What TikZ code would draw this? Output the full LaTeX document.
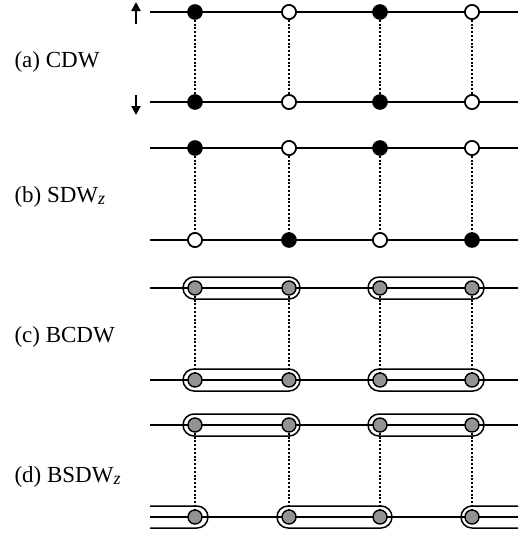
\documentclass[tikz,border=0pt]{standalone}
\usepackage{fontspec}
\setmainfont{Liberation Serif}
\usetikzlibrary{arrows.meta}
\begin{document}
\begin{tikzpicture}[x=1pt,y=-1pt,
    site/.style={circle,draw,line width=1.6pt,inner sep=0pt,minimum size=14pt},
    full/.style={site,fill=black},
    hole/.style={site,fill=white},
    bond/.style={site,fill=gray!85,line width=1.4pt},
    chain/.style={line width=2pt},
    rung/.style={line width=2.6pt,dash pattern=on 2pt off 1.8pt},
    pair/.style={draw,line width=1.5pt,rounded corners=11pt},
    spin/.style={line width=2.6pt,-{Triangle[length=9pt,width=9pt]}},
    label/.style={anchor=base west,font=\fontsize{23}{27}\selectfont}]
    \useasboundingbox (0,0) rectangle (527,536);
    %% Labels
    \node[label] (la) at (11,67) {(a) CDW};
    \node[label] (lb) at (11,202) {(b) SDW{\fontsize{18}{20}\selectfont\itshape\raisebox{-0.25ex}{z}}};
    \node[label] (lc) at (11,342) {(c) BCDW};
    \node[label] (ld) at (11,482) {(d) BSDW{\fontsize{18}{20}\selectfont\itshape\raisebox{-0.25ex}{z}}};
    %% Spin arrows
    \coordinate (up0) at (136,24);   \coordinate (up1) at (136,2);
    \coordinate (dn0) at (136,95);   \coordinate (dn1) at (136,115);
    \draw[spin] (up0) -- (up1);
    \draw[spin] (dn0) -- (dn1);
    %% Chains
    \foreach \r/\y in {a1/12,a2/102,b1/148,b2/240,c1/288,c2/380,d1/425,d2/517} {
        \coordinate (\r w) at (150,\y);
        \coordinate (\r e) at (518,\y);
        \draw[chain] (\r w) -- (\r e);
    }
    %% Bonds (c), (d)
    \foreach \y in {288,380,425} {
        \draw[pair] (183,\y-11) rectangle (300,\y+11);
        \draw[pair] (368,\y-11) rectangle (484,\y+11);
    }
    \draw[pair] (150,506) -- (208,506) -- (208,528) -- (150,528);
    \draw[pair] (277,506) rectangle (392,528);
    \draw[pair] (518,506) -- (461,506) -- (461,528) -- (518,528);
    %% Sites
    \foreach \s/\x in {1/195,2/289,3/380,4/472} {
        \node[full] (a1\s) at (\x,12) {};
        \node[full] (a2\s) at (\x,102) {};
        \node[full] (b1\s) at (\x,148) {};
        \node[full] (b2\s) at (\x,240) {};
        \node[bond] (c1\s) at (\x,288) {};
        \node[bond] (c2\s) at (\x,380) {};
        \node[bond] (d1\s) at (\x,425) {};
        \node[bond] (d2\s) at (\x,517) {};
    }
    \foreach \n in {a12,a14,a22,a24,b12,b14,b21,b23} {
        \node[hole] at (\n) {};
    }
    %% Rungs
    \foreach \r in {a,b,c,d} {
        \foreach \s in {1,...,4} {
            \draw[rung] (\r1\s) -- (\r2\s);
        }
    }
\end{tikzpicture}
\end{document}
